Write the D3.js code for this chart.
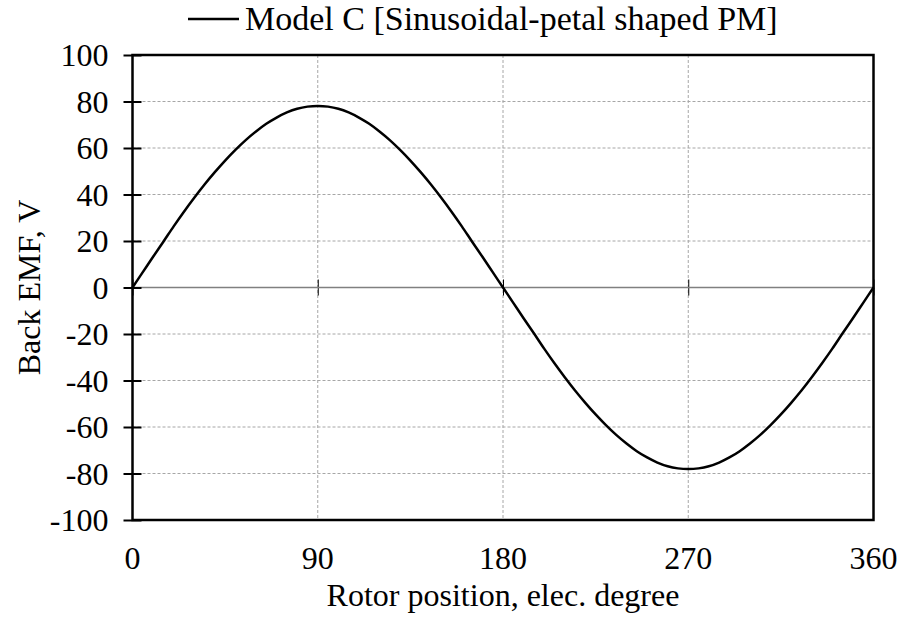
<!DOCTYPE html>
<html><head><meta charset="utf-8">
<script src="https://cdn.jsdelivr.net/npm/d3@7"></script>
<style>body{margin:0;background:#fff}svg{display:block}svg text{font-family:"Liberation Serif","Times New Roman",serif !important;fill:#000}</style>
</head><body>
<script>
const angles = [0,5,10,15,20,25,30,35,40,45,50,55,60,65,70,75,80,85,90,95,100,105,110,115,120,125,130,135,140,145,150,155,160,165,170,175,180,185,190,195,200,205,210,215,220,225,230,235,240,245,250,255,260,265,270,275,280,285,290,295,300,305,310,315,320,325,330,335,340,345,350,355,360];
const backEmf = [0,6.6,13.2,19.7,26.3,32.6,38.6,44.3,49.6,54.6,59.2,63.4,67.1,70.4,73.1,75.3,76.9,77.8,78.1,77.8,76.9,75.3,73.1,70.4,67.1,63.4,59.2,54.6,49.6,44.3,38.6,32.6,26.3,19.7,13.2,6.6,0,-6.6,-13.2,-19.7,-26.3,-32.6,-38.6,-44.3,-49.6,-54.6,-59.2,-63.4,-67.1,-70.4,-73.1,-75.3,-76.9,-77.8,-78.1,-77.8,-76.9,-75.3,-73.1,-70.4,-67.1,-63.4,-59.2,-54.6,-49.6,-44.3,-38.6,-32.6,-26.3,-19.7,-13.2,-6.6,0];
const xTicks = [0,90,180,270,360];
const yTicks = [-100,-80,-60,-40,-20,0,20,40,60,80,100];
const seriesName = "Model C [Sinusoidal-petal shaped PM]";
const xTitle = "Rotor position, elec. degree";
const yTitle = "Back EMF, V";

const W=903,H=621, L=132.5,R=873.5,T=55,B=520;
const svg=d3.select("body").append("svg").attr("width",W).attr("height",H);
const x=d3.scaleLinear().domain([0,360]).range([L,R]);
const y=d3.scaleLinear().domain([-100,100]).range([B,T]);
const fs=32;

// gridlines
svg.append("g").selectAll("line").data(yTicks.filter(v=>v!==0&&v!==100&&v!==-100)).join("line")
 .attr("x1",L).attr("x2",R).attr("y1",d=>y(d)).attr("y2",d=>y(d))
 .attr("stroke","#a6a6a6").attr("stroke-width",1).attr("stroke-dasharray","3,2");
svg.append("g").selectAll("line").data(xTicks.filter(v=>v!==0&&v!==360)).join("line")
 .attr("y1",T).attr("y2",B).attr("x1",d=>x(d)).attr("x2",d=>x(d))
 .attr("stroke","#a6a6a6").attr("stroke-width",1).attr("stroke-dasharray","3,2");

// zero axis line with ticks
const xAx=svg.append("g").attr("transform",`translate(0,${y(0)})`)
 .call(d3.axisBottom(x).tickValues(xTicks).tickSize(16).tickFormat(""));
xAx.select(".domain").remove();
xAx.selectAll(".tick line").attr("y1",-8).attr("y2",8).attr("stroke","#000").attr("stroke-width",1);
svg.append("line").attr("x1",L).attr("x2",R).attr("y1",y(0)).attr("y2",y(0)).attr("stroke","#808080").attr("stroke-width",1.5);

// border
svg.append("rect").attr("x",L).attr("y",T).attr("width",R-L).attr("height",B-T)
 .attr("fill","none").attr("stroke","#000").attr("stroke-width",2.5);

// y axis ticks and labels
const yAx=svg.append("g").attr("transform",`translate(${L},0)`)
 .call(d3.axisLeft(y).tickValues(yTicks).tickSize(9).tickPadding(15).tickFormat(d=>String(d)));
yAx.select(".domain").remove();
yAx.attr("font-family",null).attr("font-size",null);
yAx.selectAll(".tick line").attr("x1",-9).attr("x2",9).attr("stroke","#000").attr("stroke-width",2);
yAx.selectAll(".tick text").attr("font-size",fs).attr("dy","0.34em");

// x labels
svg.append("g").selectAll("text").data(xTicks).join("text")
 .attr("x",d=>x(d)).attr("y",569).attr("text-anchor","middle").attr("font-size",fs).text(d=>d);

// curve
svg.append("path").datum(angles.map((a,i)=>[a,backEmf[i]]))
 .attr("d",d3.line().x(d=>x(d[0])).y(d=>y(d[1])).curve(d3.curveMonotoneX))
 .attr("fill","none").attr("stroke","#000").attr("stroke-width",2.5);

// titles
svg.append("text").attr("x",(L+R)/2).attr("y",606).attr("text-anchor","middle").attr("font-size",fs).text(xTitle);
svg.append("text").attr("transform",`translate(40,${y(0)}) rotate(-90)`).attr("text-anchor","middle").attr("font-size",fs).text(yTitle);

// legend
svg.append("line").attr("x1",188).attr("x2",239).attr("y1",19).attr("y2",19).attr("stroke","#000").attr("stroke-width",2.5);
svg.append("text").attr("x",245).attr("y",30).attr("font-size",34).text(seriesName);
</script>
</body></html>
